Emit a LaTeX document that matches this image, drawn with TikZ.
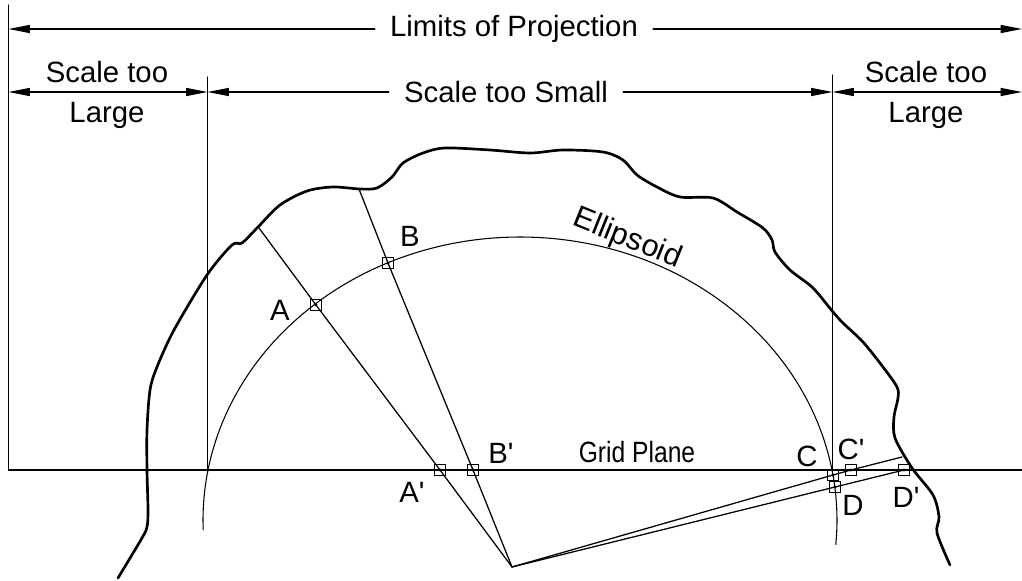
\documentclass[tikz,border=0pt]{standalone}
\usepackage{graphicx}
\usepackage{fontspec}
\setmainfont{Liberation Sans}[Ligatures=TeXOff]
\usetikzlibrary{arrows.meta}

\begin{document}
\begin{tikzpicture}[x=0.75pt,y=-0.75pt,>={Stealth[length=16pt,width=6pt,inset=0pt]},line cap=round,
  line width=0.95pt,
  lbl/.style={font=\fontsize{22}{26}\selectfont,inner sep=0pt},
  dimlbl/.style={lbl,inner sep=11pt},
  pt/.style={draw,rectangle,minimum size=8pt,inner sep=0pt,line width=0.9pt}]
\useasboundingbox (0,0) rectangle (1022,581);
% limits and grid plane
\coordinate (limTop) at (8.5,5);
\coordinate (limBot) at (8.5,470);
\coordinate (leftTop) at (207.5,77);
\coordinate (leftBot) at (207.5,470);
\coordinate (rightTop) at (832.5,75);
\coordinate (rightBot) at (832.5,475);
\coordinate (gridEnd) at (1022,470);
\draw (limTop) -- (limBot);
\draw (leftTop) -- (leftBot);
\draw (rightTop) -- (rightBot);
\draw (limBot) -- (gridEnd);
% ellipsoid
\draw[line width=0.8pt,domain=-5:182,samples=90,smooth] plot ({520+317*cos(\x)},{520-283*sin(\x)});
% terrain
\draw[line width=2pt,line join=round] plot[smooth,tension=0.5] coordinates {
  (118,578) (142,538) (147,527) (148,510) (147,470) (147,430) (150,390) (157,367)
  (174,330) (207,275) (232,245) (242,243) (258,227) (280,205) (307,191) (333,187)
  (360,189) (377,188) (392,177) (403,163) (423,153) (445,148) (490,150) (530,153)
  (563,150) (603,152) (623,160) (637,175) (657,187) (680,197) (713,198) (737,212)
  (763,228) (772,240) (775,252) (790,270) (813,288) (833,312) (843,323) (863,342)
  (883,367) (897,387) (898,398) (894,417) (895,438) (912,468) (933,495) (939,517)
  (937,533) (950,565)};
% points
\coordinate (apex) at (512,567);
\coordinate (endA) at (259,228);
\coordinate (endB) at (359,189);
\coordinate (endC) at (902,457);
\node[pt] (ptA) at (316,305) {};
\node[pt] (ptB) at (388,263) {};
\node[pt] (ptC) at (833,475) {};
\node[pt] (ptD) at (835,487) {};
\node[pt] (ptAp) at (440,470) {};
\node[pt] (ptBp) at (473,470) {};
\node[pt] (ptCp) at (851,470) {};
\node[pt] (ptDp) at (904,470) {};
\draw (apex) -- (ptAp.center) -- (ptA.center) -- (endA);
\draw (apex) -- (ptBp.center) -- (ptB.center) -- (endB);
\draw (apex) -- (ptC.center) -- (ptCp.center) -- (endC);
\draw (apex) -- (ptD.center) -- (ptDp.center);
\foreach \p in {ptA,ptB,ptC,ptD,ptAp,ptBp,ptCp,ptDp}
  \fill (\p) circle (1.6);
% dimension lines
\node[dimlbl] (limits) at (514,29) {Limits of Projection};
\coordinate (limL) at (8.5,29);
\coordinate (limR) at (1022,29);
\draw[->] (limits) -- (limL);
\draw[->] (limits) -- (limR);
\node[dimlbl] (small) at (506,92) {Scale too Small};
\coordinate (smallL) at (207.5,92);
\coordinate (smallR) at (832.5,92);
\coordinate (largeL) at (8.5,92);
\coordinate (largeR) at (1022,92);
\draw[->] (small) -- (smallL);
\draw[->] (small) -- (smallR);
\draw[<->] (largeL) -- (smallL);
\draw[<->] (smallR) -- (largeR);
% labels
\node[lbl] (scaleL) at (107,72) {Scale too};
\node[lbl] (largeTxtL) at (107,115) {Large};
\node[lbl] (scaleR) at (926,72) {Scale too};
\node[lbl] (largeTxtR) at (926,115) {Large};
\node[lbl,rotate=-22,font=\fontsize{23}{26}\selectfont] (ellipsoid) at (627,239) {Ellipsoid};
\node[lbl] (grid) at (637,452) {\scalebox{0.84}[1]{Grid Plane}};
\node[lbl] (lblA) at (280,310) {A};
\node[lbl] (lblB) at (410,236) {B};
\node[lbl] (lblC) at (807,456) {C};
\node[lbl] (lblD) at (853,505) {D};
\node[lbl] (lblAp) at (412,492) {A'};
\node[lbl] (lblBp) at (501,453) {B'};
\node[lbl] (lblCp) at (851,449) {C'};
\node[lbl] (lblDp) at (906,497) {D'};
\end{tikzpicture}
\end{document}
